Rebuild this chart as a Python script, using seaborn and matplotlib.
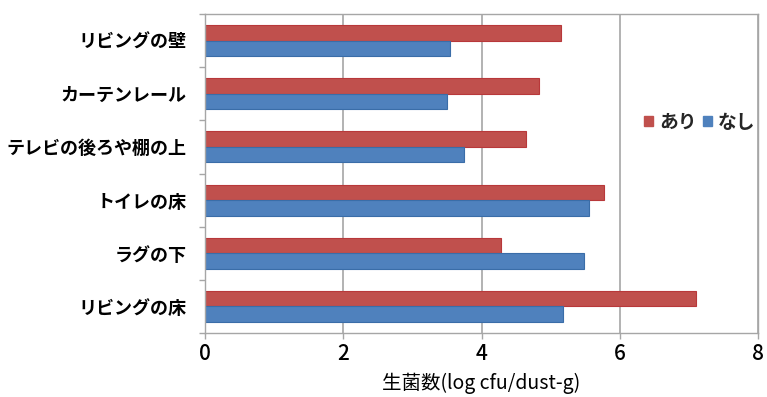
import matplotlib
matplotlib.use("Agg")
import matplotlib.pyplot as plt
from matplotlib.patches import Patch
from matplotlib.ticker import FixedLocator
import seaborn as sns
import pandas as pd

# Household locations (top to bottom) and viable counts, log cfu/dust-g
places = ["リビングの壁", "カーテンレール", "テレビの後ろや棚の上", "トイレの床", "ラグの下", "リビングの床"]
groups = ["あり", "なし"]
ari_values = [5.15, 4.83, 4.65, 5.77, 4.28, 7.10]
nashi_values = [3.55, 3.50, 3.75, 5.56, 5.49, 5.18]
x_ticks = [0, 2, 4, 6, 8]
x_label = "生菌数(log cfu/dust-g)"

colors = {"あり": "#C0504D", "なし": "#4F81BD"}
edges = {"あり": "#B8383A", "なし": "#3A6DA8"}

df = pd.DataFrame({
    "place": places * 2,
    "group": [groups[0]] * len(places) + [groups[1]] * len(places),
    "value": ari_values + nashi_values,
})

sns.set_theme(style="white")
plt.rcParams["font.family"] = ["Noto Sans CJK JP", "DejaVu Sans"]

fig = plt.figure(figsize=(7.67, 3.97), dpi=100)
ax = fig.add_axes([205 / 767, 64 / 397, 553 / 767, 319 / 397])

sns.barplot(data=df, y="place", x="value", hue="group", order=places,
            hue_order=groups, palette=colors, orient="h", width=0.58,
            gap=0, saturation=1, ax=ax, legend=False)

for container, g in zip(ax.containers, groups):
    for bar in container:
        bar.set_edgecolor(edges[g])
        bar.set_linewidth(0.8)

ax.set_xlim(0, 8)
ax.set_ylim(len(places) - 0.5, -0.5)
ax.set_xticks(x_ticks)
ax.xaxis.grid(True, color="#A6A6A6", linewidth=1.2)
ax.set_axisbelow(True)

for side in ["left", "right", "top", "bottom"]:
    ax.spines[side].set_visible(True)
    ax.spines[side].set_color("#A6A6A6")
    ax.spines[side].set_linewidth(1.0)

# category labels centred, small ticks on the boundaries
ax.yaxis.set_minor_locator(FixedLocator([i + 0.5 for i in range(-1, len(places))]))
ax.tick_params(axis="y", which="major", length=0, pad=13)
ax.tick_params(axis="y", which="minor", left=True, length=4, color="#A6A6A6", width=1)
ax.tick_params(axis="x", which="major", bottom=True, length=4, color="#A6A6A6",
               width=1, pad=3)

for lab in ax.get_yticklabels():
    lab.set_fontsize(13)
    lab.set_fontweight("bold")
    lab.set_color("black")
for lab in ax.get_xticklabels():
    lab.set_fontsize(15)
    lab.set_fontweight("medium")
    lab.set_color("black")

ax.set_ylabel("")
ax.set_xlabel(x_label, fontsize=14, color="black", labelpad=6)

handles = [Patch(facecolor=colors[g], edgecolor=colors[g]) for g in groups]
leg = ax.legend(handles, groups, loc="center left", bbox_to_anchor=(0.78, 0.661),
                ncol=2, frameon=False, handlelength=0.5, handleheight=0.5,
                handletextpad=0.3, columnspacing=0.35, borderaxespad=0,
                prop={"size": 13.5, "weight": "bold"})

fig.savefig("out.png", dpi=100, facecolor="white")
